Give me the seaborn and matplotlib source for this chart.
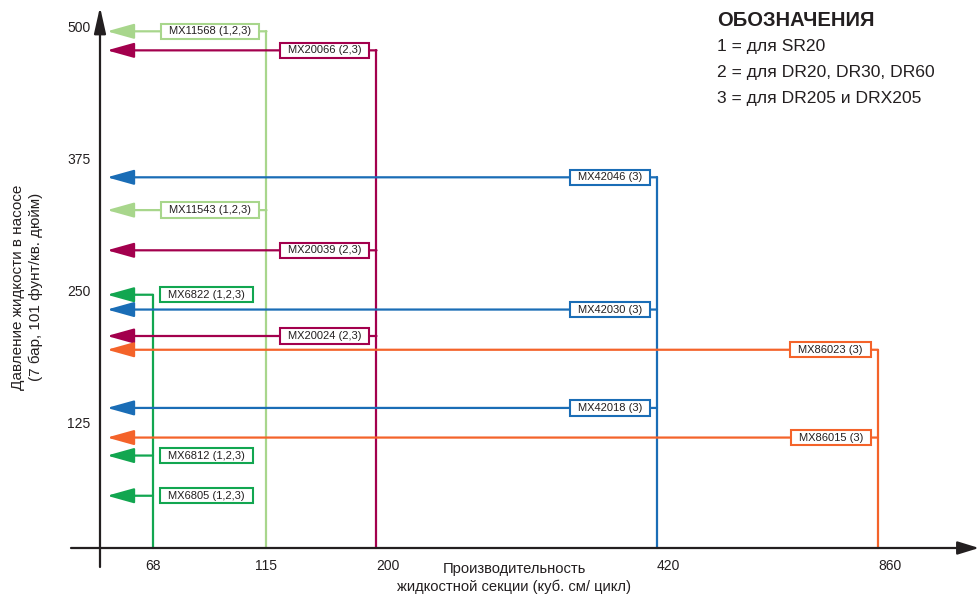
import numpy as np
import pandas as pd
import matplotlib
matplotlib.use("Agg")
import matplotlib.pyplot as plt
from matplotlib.path import Path
import seaborn as sns

# ---------------- data ----------------
products = ["MX6805", "MX6812", "MX6822", "MX11543", "MX11568",
            "MX20024", "MX20039", "MX20066",
            "MX42018", "MX42030", "MX42046", "MX86015", "MX86023"]
compat = ["(1,2,3)", "(1,2,3)", "(1,2,3)", "(1,2,3)", "(1,2,3)",
          "(2,3)", "(2,3)", "(2,3)",
          "(3)", "(3)", "(3)", "(3)", "(3)"]
capacity = [68, 68, 68, 115, 115, 200, 200, 200, 420, 420, 420, 860, 860]
pressure = [56, 94, 246, 326, 495, 207, 288, 477, 139, 232, 357, 111, 194]

capacity_ticks = [68, 115, 200, 420, 860]
pressure_ticks = [125, 250, 375, 500]

legend_title = "ОБОЗНАЧЕНИЯ"
legend_lines = ["1 = для SR20", "2 = для DR20, DR30, DR60", "3 = для DR205 и DRX205"]
x_label = "Производительность\nжидкостной секции (куб. см/ цикл)"
y_label = "Давление жидкости в насосе\n(7 бар, 101 фунт/кв. дюйм)"

group_colors = {68: "#12a650", 115: "#a8d68c", 200: "#a3004d",
                420: "#1a6db6", 860: "#f4632a"}

# ---------------- style ----------------
sns.set_theme(style="white")
plt.rcParams["font.family"] = ["Liberation Sans", "DejaVu Sans"]
AXIS_COLOR = "#231f20"

W, H = 979, 599
fig = plt.figure(figsize=(W / 100, H / 100), dpi=100)
ax = fig.add_axes([0, 0, 1, 1])
for s in ax.spines.values():
    s.set_visible(False)

# non-uniform capacity axis (positions of the category columns)
cap_anchor = np.array([-500, 0, 68, 115, 200, 420, 860, 2000.0])
pix_anchor = np.array([-289.7, 100, 153, 266.5, 376.5, 657, 878, 1450.6])
fwd = lambda x: np.interp(x, cap_anchor, pix_anchor)
inv = lambda p: np.interp(p, pix_anchor, cap_anchor)
ax.set_xscale("function", functions=(fwd, inv))
ax.set_xlim(inv(0), inv(W))
ax.set_ylim(-41.6, 524.6)

base_frac = 1 - 548 / H          # x-axis line position (axes fraction)
y0, y1 = ax.get_ylim()
base_v = y0 + (y1 - y0) * base_frac

ax.spines["bottom"].set_position(("axes", base_frac))
ax.spines["left"].set_position(("data", 0))

# ---------------- axes arrows ----------------
ax.annotate("", xy=(1.0, base_frac), xytext=(71 / W, base_frac),
            xycoords="axes fraction", textcoords="axes fraction",
            arrowprops=dict(arrowstyle="-|>,head_length=13,head_width=4.0",
                            mutation_scale=1, color=AXIS_COLOR, lw=1.6,
                            shrinkA=0, shrinkB=0), zorder=5)
ax.annotate("", xy=(0, 1 - 7 / H), xytext=(0, 1 - 567 / H),
            xycoords=("data", "axes fraction"), textcoords=("data", "axes fraction"),
            arrowprops=dict(arrowstyle="-|>,head_length=16,head_width=3.6",
                            mutation_scale=1, color=AXIS_COLOR, lw=1.6,
                            shrinkA=0, shrinkB=0), zorder=5)

# ---------------- vertical capacity lines (seaborn) ----------------
df = pd.DataFrame({"product": products, "compat": compat,
                   "capacity": capacity, "pressure": pressure})
tops = df.groupby("capacity")["pressure"].max()
vrows = []
for cap, top in tops.items():
    vrows.append({"capacity": cap, "p": base_v, "grp": cap})
    vrows.append({"capacity": cap, "p": top, "grp": cap})
dv = pd.DataFrame(vrows)
sns.lineplot(data=dv, x="capacity", y="p", hue="grp", units="grp",
             estimator=None, sort=False, palette=group_colors,
             legend=False, lw=1.6, ax=ax, zorder=2)
ax.set_xlabel("")
ax.set_ylabel("")


# ---------------- label box style ----------------
PADX, PADY = 0.72, 0.24


def label_box(x0, y0, width, height, mutation_size):
    padx = PADX * mutation_size
    pady = PADY * mutation_size
    xa, xb = x0 - padx, x0 + width + padx
    ya, yb = y0 - pady, y0 + height + pady
    return Path([(xa, ya), (xb, ya), (xb, yb), (xa, yb), (xa, ya)], closed=True)


label_fs = 8.0
box_lw = 1.5
gap_px = 6
pad_px = PADX * label_fs * 100 / 72
text_off_pt = (gap_px + pad_px + box_lw * 100 / 72 / 2) * 72 / 100

# ---------------- horizontal arrows + labels ----------------
for _, r in df.iterrows():
    c = group_colors[r["capacity"]]
    ax.annotate("", xy=(107 / W, r["pressure"]), xytext=(r["capacity"], r["pressure"]),
                xycoords=("axes fraction", "data"), textcoords="data",
                arrowprops=dict(arrowstyle="-|>,head_length=16.5,head_width=4.6",
                                mutation_scale=1, color=c, lw=1.6,
                                shrinkA=0, shrinkB=0), zorder=2)
    left_side = r["capacity"] == min(capacity)
    ax.annotate(f"{r['product']} {r['compat']}", xy=(r["capacity"], r["pressure"]),
                xytext=(text_off_pt if left_side else -text_off_pt, 0),
                textcoords="offset points", ha="left" if left_side else "right",
                va="center", fontsize=label_fs, color="#231f20",
                bbox=dict(boxstyle=label_box, fc="white", ec=c, lw=box_lw),
                zorder=4)

# ---------------- ticks ----------------
ax.set_xticks(capacity_ticks)
ax.set_xticklabels([str(v) for v in capacity_ticks])
ax.set_yticks(pressure_ticks)
ax.set_yticklabels([str(v) for v in pressure_ticks])
ax.tick_params(axis="x", length=0, pad=8, labelsize=10, labelcolor="#231f20")
ax.tick_params(axis="y", length=0, pad=7, labelsize=10, labelcolor="#231f20")
for lbl, ha in zip(ax.get_xticklabels(), ["center", "center", "left", "left", "left"]):
    lbl.set_ha(ha)
ax.grid(False)

# ---------------- axis titles ----------------
fig.text(514 / W, 1 - 578 / H, x_label, ha="center", va="center",
         multialignment="center", fontsize=10.6, color="#231f20", linespacing=1.3)
fig.text(27 / W, 1 - 287 / H, y_label, ha="center", va="center", rotation=90,
         multialignment="center", fontsize=11, color="#231f20", linespacing=1.3)

# ---------------- legend text ----------------
fig.text(717 / W, 1 - 21 / H, legend_title, ha="left", va="center",
         fontsize=14.5, fontweight="bold", color="#231f20")
for i, line in enumerate(legend_lines):
    fig.text(717 / W, 1 - (46 + 26.5 * i) / H, line, ha="left", va="center",
             fontsize=12.6, color="#231f20")

fig.savefig("out.png", dpi=100)
